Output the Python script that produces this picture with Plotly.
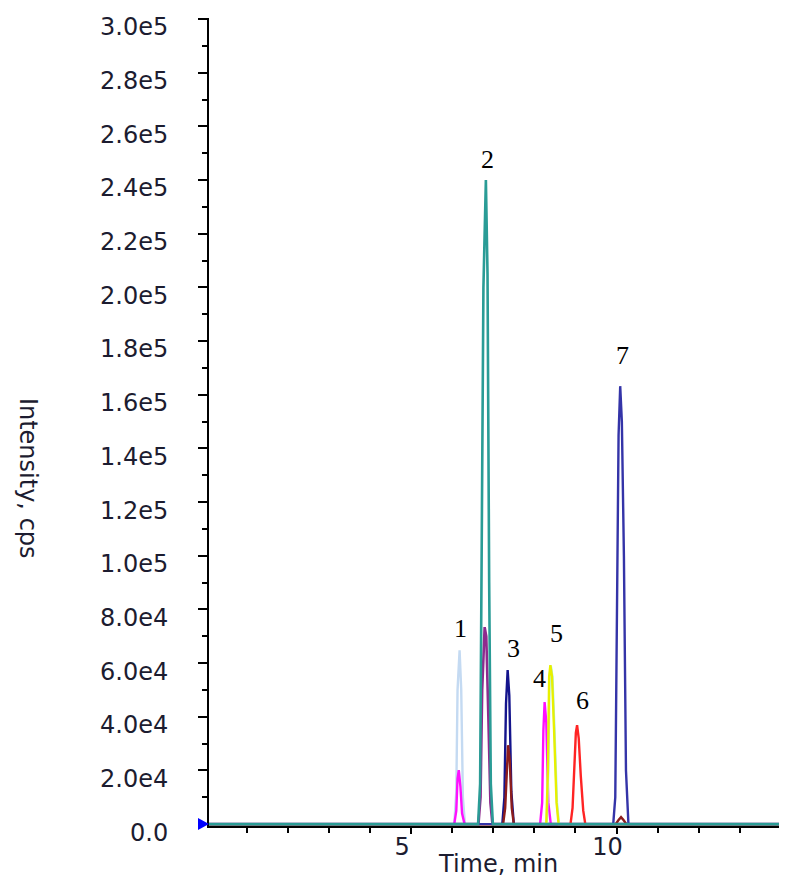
import plotly.graph_objects as go

# ---------------- data ----------------
T_START = 0.08
T_END = 14.2

# light blue (peak 1)
lightblue_t = [T_START, 6.05, 6.10, 6.13, 6.18, 6.22, 6.26, 6.31, T_END]
lightblue_y = [0, 0, 12000, 50000, 64800, 50000, 10000, 0, 0]

# magenta (peak 1 small, peak 4)
magenta_t = [T_START, 6.05, 6.10, 6.13, 6.16, 6.20, 6.24, 6.30,
             8.14, 8.19, 8.22, 8.25, 8.29, 8.34, 8.40, T_END]
magenta_y = [0, 0, 5000, 17000, 20100, 14000, 4000, 0,
             0, 8000, 35000, 45500, 38000, 8000, 0, 0]

# purple (peak 2 inner)
purple_t = [T_START, 6.64, 6.69, 6.73, 6.79, 6.83, 6.88, 6.93, 6.98, T_END]
purple_y = [0, 0, 10000, 50000, 73400, 70000, 40000, 8000, 0, 0]

# navy (peak 3)
navy_t = [T_START, 7.22, 7.27, 7.31, 7.35, 7.39, 7.44, 7.50, T_END]
navy_y = [0, 0, 10000, 45000, 57400, 48000, 12000, 0, 0]

# maroon (peak 3 small, peak 7 small)
maroon_t = [T_START, 7.24, 7.29, 7.33, 7.36, 7.40, 7.45, 7.50,
            9.98, 10.05, 10.11, 10.17, 10.24, T_END]
maroon_y = [0, 0, 6000, 22000, 29400, 24000, 6000, 0,
            0, 1500, 2600, 1500, 0, 0]

# pale cyan (peak 5 halo)
cyan_t = [T_START, 8.30, 8.34, 8.37, 8.40, 8.44, 8.49, 8.55, 8.60, T_END]
cyan_y = [0, 0, 20000, 55000, 59000, 55000, 35000, 8000, 0, 0]

# yellow (peak 5)
yellow_t = [T_START, 8.29, 8.33, 8.36, 8.39, 8.43, 8.48, 8.54, 8.59, T_END]
yellow_y = [0, 0, 20000, 55000, 59250, 55000, 35000, 8000, 0, 0]

# red (peak 6)
red_t = [T_START, 8.88, 8.93, 8.97, 9.01, 9.04, 9.08, 9.13, 9.19, 9.24, T_END]
red_y = [0, 0, 6000, 22000, 34000, 36900, 32000, 18000, 5000, 0, 0]

# blue (peak 7)
blue_t = [T_START, 9.92, 9.97, 10.01, 10.05, 10.09, 10.13, 10.18, 10.23, 10.29, T_END]
blue_y = [0, 0, 10000, 90000, 145000, 163200, 150000, 100000, 20000, 0, 0]

# teal (peak 2)
teal_t = [T_START, 6.63, 6.68, 6.71, 6.76, 6.82, 6.86, 6.90, 6.94, 6.99, T_END]
teal_y = [0, 0, 15000, 90000, 200000, 240000, 205000, 90000, 15000, 0, 0]

# peak labels
label_texts = ["1", "2", "3", "4", "5", "6", "7"]
label_t = [6.20, 6.86, 7.50, 8.13, 8.54, 9.18, 10.15]
label_y = [73000, 247500, 65600, 54400, 71200, 46200, 174800]

# axis ticks
y_tickvals = [0, 20000, 40000, 60000, 80000, 100000, 120000, 140000,
              160000, 180000, 200000, 220000, 240000, 260000, 280000, 300000]
y_ticktext = ["0.0", "2.0e4", "4.0e4", "6.0e4", "8.0e4", "1.0e5", "1.2e5", "1.4e5",
              "1.6e5", "1.8e5", "2.0e5", "2.2e5", "2.4e5", "2.6e5", "2.8e5", "3.0e5"]
x_tickvals = [5, 10]
x_ticktext = ["5", "10"]

Y_MIN, Y_MAX = -700, 300400
X_MAX = 14.15

# ---------------- figure ----------------
FONT = "DejaVu Sans"
TXT = "#1c1c30"

series = [
    (lightblue_t, lightblue_y, "#c4daf2", 2.4),
    (magenta_t, magenta_y, "#ff10ff", 2.4),
    (purple_t, purple_y, "#8e2a8e", 2.6),
    (navy_t, navy_y, "#14148c", 2.4),
    (maroon_t, maroon_y, "#8c1c1c", 2.4),
    (cyan_t, cyan_y, "#a8f0e6", 2.4),
    (yellow_t, yellow_y, "#e8f000", 2.4),
    (red_t, red_y, "#ff2424", 2.4),
    (blue_t, blue_y, "#3434a8", 2.4),
    (teal_t, teal_y, "#2a9c96", 2.6),
]

fig = go.Figure()
for t, y, c, w in series:
    fig.add_trace(go.Scatter(x=t, y=y, mode="lines",
                             line=dict(color=c, width=w),
                             showlegend=False, hoverinfo="skip"))

for txt, t, y in zip(label_texts, label_t, label_y):
    fig.add_annotation(x=t, y=y, text=txt, showarrow=False,
                       font=dict(family="Liberation Serif", size=26, color="black"),
                       xanchor="center", yanchor="middle")

fig.add_annotation(xref="paper", yref="paper", x=0.5, y=-0.0475, text="Time, min",
                   showarrow=False, font=dict(family=FONT, size=24, color=TXT),
                   xanchor="center", yanchor="middle")
fig.add_annotation(xref="paper", yref="paper", x=-0.313, y=0.4307, text="Intensity, cps",
                   textangle=90, showarrow=False,
                   font=dict(family=FONT, size=24, color=TXT),
                   xanchor="center", yanchor="middle")

# blue start triangle at the origin (pixel-sized shape anchored at y = 0)
fig.add_shape(type="path", xref="paper", yref="paper",
              xsizemode="pixel", ysizemode="pixel",
              xanchor=0, yanchor=(0 - Y_MIN) / (Y_MAX - Y_MIN),
              path="M -11,-6 L 0,0 L -11,6 Z",
              fillcolor="#0000ff", line=dict(width=0), layer="above")

# page body has an 8px margin -> figure is sized/margined to compensate
fig.update_layout(
    width=779, height=870,
    margin=dict(l=201, r=0, t=10, b=52, autoexpand=False),
    paper_bgcolor="white", plot_bgcolor="white",
    font=dict(family=FONT, size=24, color=TXT),
)
fig.update_xaxes(
    range=[T_START, X_MAX], showgrid=False, zeroline=False, automargin=False,
    showline=True, linecolor="black", linewidth=2,
    ticks="outside", ticklen=6, tickwidth=1.5, tickcolor="black",
    tickmode="array", tickvals=x_tickvals, ticktext=x_ticktext,
    tickfont=dict(family=FONT, size=24, color=TXT),
    ticklabelshift=-9, ticklabelstandoff=-8, ticklabeloverflow="allow",
    minor=dict(ticks="outside", ticklen=5, tickwidth=1.5, tickcolor="black",
               dtick=1, tick0=0, showgrid=False),
)
fig.update_yaxes(
    range=[Y_MIN, Y_MAX], showgrid=False, zeroline=False, automargin=False,
    showline=True, linecolor="black", linewidth=2,
    ticks="outside", ticklen=9, tickwidth=1.5, tickcolor="black",
    tickmode="array", tickvals=y_tickvals, ticktext=y_ticktext,
    tickfont=dict(family=FONT, size=24, color=TXT),
    ticklabelstandoff=25, ticklabelshift=8, ticklabeloverflow="allow",
    minor=dict(ticks="outside", ticklen=5, tickwidth=1.5, tickcolor="black",
               dtick=10000, tick0=0, showgrid=False),
)

fig.write_html("out.html")
